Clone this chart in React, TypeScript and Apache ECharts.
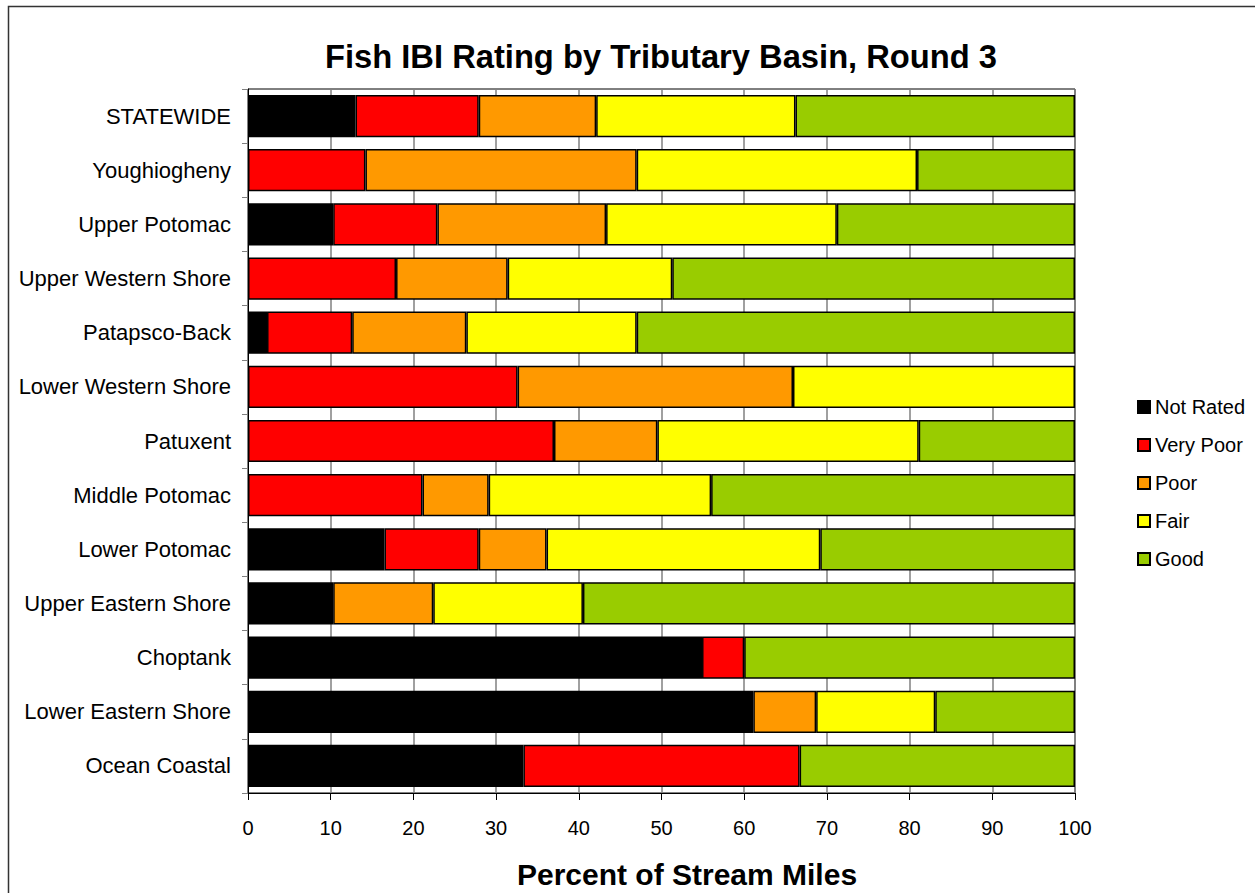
import React, { useEffect, useRef } from "react";
import * as echarts from "echarts";

const categories = [
  "STATEWIDE",
  "Youghiogheny",
  "Upper Potomac",
  "Upper Western Shore",
  "Patapsco-Back",
  "Lower Western Shore",
  "Patuxent",
  "Middle Potomac",
  "Lower Potomac",
  "Upper Eastern Shore",
  "Choptank",
  "Lower Eastern Shore",
  "Ocean Coastal",
];

const notRated = [13.0, 0, 10.3, 0, 2.3, 0, 0, 0, 16.5, 10.3, 54.9, 61.1, 33.3];
const veryPoor = [14.9, 14.2, 12.6, 17.9, 10.3, 32.6, 37.0, 21.1, 11.4, 0, 5.1, 0, 33.4];
const poor = [14.2, 32.8, 20.4, 13.5, 13.8, 33.3, 12.5, 8.0, 8.2, 12.1, 0, 7.6, 0];
const fair = [24.1, 33.9, 27.9, 19.9, 20.6, 34.1, 31.6, 26.9, 33.1, 18.1, 0, 14.4, 0];
const good = [33.8, 19.1, 28.8, 48.7, 53.0, 0, 18.9, 44.0, 30.8, 59.5, 40.0, 16.9, 33.3];

const seriesNames = ["Not Rated", "Very Poor", "Poor", "Fair", "Good"];
const seriesData = [notRated, veryPoor, poor, fair, good];
const seriesColors = ["#000000", "#FF0000", "#FF9900", "#FFFF00", "#99CC00"];
const xTicks = [0, 10, 20, 30, 40, 50, 60, 70, 80, 90, 100];

const FONT = "'Liberation Sans', Arial, sans-serif";

export default function App() {
  const ref = useRef<HTMLDivElement>(null);
  useEffect(() => {
    if (!ref.current) return;
    const chart = echarts.init(ref.current, null, { renderer: "svg" });
    chart.setOption({
      animation: false,
      backgroundColor: "#ffffff",
      textStyle: { fontFamily: FONT },
      grid: {
        left: 248,
        right: 180,
        top: 89,
        bottom: 100,
        show: true,
        borderColor: "#000000",
        borderWidth: 1,
        backgroundColor: "transparent",
      },
      legend: {
        orient: "vertical",
        left: 1137,
        top: 397,
        padding: 0,
        itemWidth: 12,
        itemHeight: 12,
        itemGap: 18,
        icon: "rect",
        textStyle: { fontFamily: FONT, fontSize: 20, color: "#000" },
        data: seriesNames,
      },
      xAxis: {
        type: "value",
        min: xTicks[0],
        max: xTicks[xTicks.length - 1],
        interval: 10,
        axisLine: { show: true, lineStyle: { color: "#000", width: 1 } },
        axisTick: { show: true, length: 7, lineStyle: { color: "#000" } },
        axisLabel: { fontFamily: FONT, fontSize: 20, color: "#000", margin: 25 },
        splitLine: { show: true, lineStyle: { color: "#808080", width: 1.5 } },
      },
      yAxis: {
        type: "category",
        data: categories,
        inverse: true,
        axisLine: { show: true, lineStyle: { color: "#000", width: 1 } },
        axisTick: { show: true, length: 6, lineStyle: { color: "#808080" } },
        axisLabel: { fontFamily: FONT, fontSize: 22, color: "#000", margin: 17 },
        splitLine: { show: false },
      },
      series: seriesNames.map((name, i) => ({
        name,
        type: "bar",
        stack: "total",
        barCategoryGap: "22%",
        data: seriesData[i].map((v) => (v === 0 ? null : v)),
        itemStyle: { color: seriesColors[i], borderColor: "#000", borderWidth: 1.5 },
        emphasis: { disabled: true },
      })),
      graphic: [
        {
          type: "rect",
          shape: { x: 8.5, y: 6.5, width: 1260, height: 900 },
          style: { fill: "none", stroke: "#333", lineWidth: 1.5 },
        },
        {
          type: "text",
          x: 661,
          y: 56,
          style: {
            text: "Fish IBI Rating by Tributary Basin, Round 3",
            font: `bold 32.7px ${FONT}`,
            fill: "#000",
            align: "center",
            verticalAlign: "middle",
          },
        },
        {
          type: "text",
          x: 687,
          y: 874,
          style: {
            text: "Percent of Stream Miles",
            font: `bold 30px ${FONT}`,
            fill: "#000",
            align: "center",
            verticalAlign: "middle",
          },
        },
      ],
    });
    return () => chart.dispose();
  }, []);
  return (
    <div
      ref={ref}
      style={{ position: "absolute", left: 0, top: 0, width: 1255, height: 893 }}
    />
  );
}
